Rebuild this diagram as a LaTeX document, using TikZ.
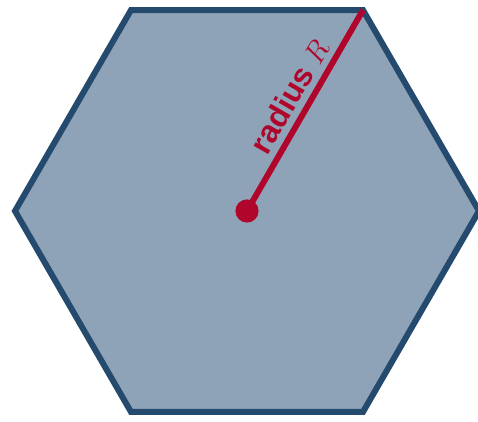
\documentclass[tikz,border=0pt]{standalone}
\usepackage{fontspec}
\setsansfont{Liberation Sans}
\definecolor{hexfill}{HTML}{8FA3B8}
\definecolor{hexedge}{HTML}{244A6E}
\definecolor{radred}{HTML}{B0062C}
\begin{document}
\begin{tikzpicture}[font=\sffamily,
 hexagon/.style={draw=hexedge,fill=hexfill,line width=0.15cm},
 radiusline/.style={draw=radred,line width=0.15cm},
 label/.style={text=radred,font=\fontsize{22.5}{26}\selectfont\sffamily\bfseries}]
\useasboundingbox (-6.175,-5.275) rectangle (5.775,5.275);
\coordinate (centre) at (0,0);
\foreach \k in {1,...,6}
  \coordinate (v\k) at ({(\k-1)*60}:5.8);
\draw[hexagon] (v1)--(v2)--(v3)--(v4)--(v5)--(v6)--cycle;
\draw[radiusline] (centre)-- node[label,pos=0.52,above=1pt,sloped] {radius $R$} (v2);
\fill[radred] (centre) circle (0.29);
\end{tikzpicture}
\end{document}
